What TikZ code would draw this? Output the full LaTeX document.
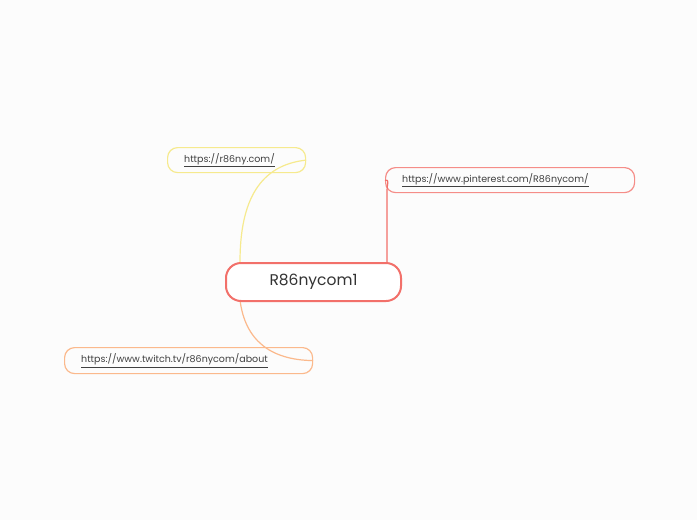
\documentclass[tikz,border=0pt]{standalone}
\usepackage{fontspec}
\setmainfont{Poppins}
\begin{document}
\begin{tikzpicture}[x=1pt,y=-1pt,
  leaf/.style={draw,line width=1.2pt,rounded corners=10pt,inner xsep=17pt,inner ysep=0pt,anchor=north west,align=left,text width=0pt,font=\fontsize{9.5}{11}\selectfont,text=black!75},
  mainbox/.style={draw=red!70!white,line width=2pt,rounded corners=15pt,fill=white,inner sep=0pt,anchor=north west,font=\fontsize{15.5}{18}\selectfont,text=black!80}]
\fill[white!99!black] (0,0) rectangle (697,520);
\definecolor{yel}{HTML}{F6EA8E}
\definecolor{red1}{HTML}{F2706A}
\definecolor{ora}{HTML}{FBB98C}
\node[leaf,draw=yel,minimum width=138pt,minimum height=25pt] (a) at (167,147) {};
\node[anchor=west,inner sep=0pt,font=\fontsize{9.5}{11}\selectfont,text=black!75] (at) at ([xshift=17pt]a.west) {\underline{https://r86ny.com/}};
\node[leaf,draw=red1!80,minimum width=249pt,minimum height=25pt] (b) at (385,167) {};
\node[anchor=west,inner sep=0pt,font=\fontsize{9.5}{11}\selectfont,text=black!75] (bt) at ([xshift=17pt]b.west) {\underline{https://www.pinterest.com/R86nycom/}};
\node[leaf,draw=ora,minimum width=248pt,minimum height=26pt] (c) at (64,347) {};
\node[anchor=west,inner sep=0pt,font=\fontsize{9.5}{11}\selectfont,text=black!75] (ct) at ([xshift=17pt]c.west) {\underline{https://www.twitch.tv/r86nycom/about}};
\draw[yel,line width=1.2pt] (240,262) .. controls (240,200) and (260,165) .. (a.east);
\draw[red1,line width=1.2pt] (387,262) -- (387,192) .. controls (387,182) and (390,180) .. (b.west);
\draw[ora,line width=1.2pt] (240,300) .. controls (245,340) and (270,360) .. (c.east);
\node[mainbox,draw=red1,minimum width=175pt,minimum height=38pt] (m) at (225,262) {R86nycom1};
\end{tikzpicture}
\end{document}
